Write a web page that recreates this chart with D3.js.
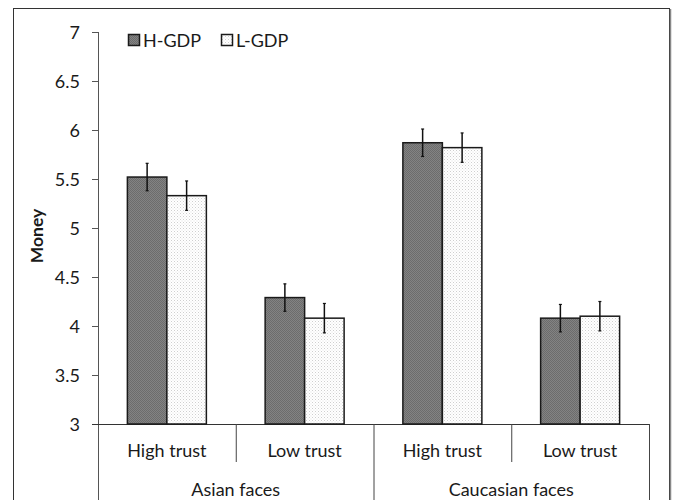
<!DOCTYPE html>
<html><head><meta charset="utf-8">
<script src="https://cdn.jsdelivr.net/npm/d3@7/dist/d3.min.js"></script>
<style>body{margin:0;background:#fff}svg{display:block}text{font-family:Lato,"Open Sans",sans-serif;fill:#1a1a1a}</style>
</head><body><svg id="c" width="673" height="500"></svg>
<script>
const faces = ["Asian faces", "Caucasian faces"];
const trusts = ["High trust", "Low trust"];
const categories = ["Asian|High trust", "Asian|Low trust", "Caucasian|High trust", "Caucasian|Low trust"];
const seriesNames = ["H-GDP", "L-GDP"];
const hGDP = [5.52, 4.29, 5.87, 4.08];
const lGDP = [5.33, 4.08, 5.82, 4.10];
const hErr = [0.14, 0.14, 0.14, 0.14];
const lErr = [0.15, 0.15, 0.15, 0.15];
const yTicks = [3, 3.5, 4, 4.5, 5, 5.5, 6, 6.5, 7];

(function(){
const FS = "18px";
const svg = d3.select("#c");
const defs = svg.append("defs");
const pH = defs.append("pattern").attr("id","pH").attr("width",2).attr("height",2).attr("patternUnits","userSpaceOnUse");
pH.append("rect").attr("width",2).attr("height",2).attr("fill","#838383");
pH.append("rect").attr("width",1).attr("height",1).attr("fill","#6c6c6c");
pH.append("rect").attr("x",1).attr("y",1).attr("width",1).attr("height",1).attr("fill","#6c6c6c");
const pL = defs.append("pattern").attr("id","pL").attr("width",3).attr("height",3).attr("patternUnits","userSpaceOnUse");
pL.append("rect").attr("width",3).attr("height",3).attr("fill","#ffffff");
pL.append("rect").attr("width",1).attr("height",1).attr("fill","#cfcfcf");
pL.append("rect").attr("x",1.5).attr("y",1.5).attr("width",1).attr("height",1).attr("fill","#e2e2e2");

// outer frame
svg.append("rect").attr("x",13.5).attr("y",8.5).attr("width",656).attr("height",500).attr("fill","none").attr("stroke","#333").attr("stroke-width",1);
svg.append("line").attr("x1",670.5).attr("x2",670.5).attr("y1",9).attr("y2",500).attr("stroke","#888").attr("stroke-width",1.5);

const pLeft = 98, pRight = 649, pTop = 32, pBottom = 424;
const y = d3.scaleLinear().domain([3, 7]).range([pBottom, pTop]);
const x0 = d3.scaleBand().domain(categories).range([pLeft, pRight]).paddingInner(0).paddingOuter(0);
const x1 = d3.scaleBand().domain(seriesNames).range([0, x0.bandwidth()]).paddingInner(0).paddingOuter(0.744);

// y axis
const yAxis = d3.axisLeft(y).tickValues(yTicks).tickSize(6).tickFormat(d => d3.format("")(d));
const ga = svg.append("g").attr("transform",`translate(${pLeft},0)`).call(yAxis);
ga.select(".domain").remove();
ga.selectAll(".tick line").attr("stroke","#555").attr("stroke-width",1);
ga.selectAll(".tick text").attr("x",-18).attr("dy","0.35em").style("font-size",FS).style("font-family","Lato, sans-serif").attr("fill","#1a1a1a");
svg.append("line").attr("x1",pLeft+0.5).attr("x2",pLeft+0.5).attr("y1",pTop).attr("y2",500).attr("stroke","#555").attr("stroke-width",1);
svg.append("line").attr("x1",pLeft-6).attr("x2",pRight).attr("y1",pBottom+0.5).attr("y2",pBottom+0.5).attr("stroke","#333").attr("stroke-width",1);

svg.append("text").attr("transform",`translate(43,${(pTop+pBottom)/2+8}) rotate(-90)`).attr("text-anchor","middle")
  .style("font-size","17.5px").style("font-weight","bold").text("Money");

// category dividers
categories.forEach((c,i) => {
  if (i === 0) return;
  const xx = x0(c);
  svg.append("line").attr("x1",xx+0.5).attr("x2",xx+0.5).attr("y1",pBottom).attr("y2", i===2 ? 500 : 462).attr("stroke","#444").attr("stroke-width",1);
});
svg.append("line").attr("x1",pRight+0.5).attr("x2",pRight+0.5).attr("y1",pBottom).attr("y2",500).attr("stroke","#444").attr("stroke-width",1);

categories.forEach((c,i) => {
  svg.append("text").attr("x", x0(c)+x0.bandwidth()/2).attr("y",457).attr("text-anchor","middle").style("font-size",FS).text(trusts[i%2]);
});
faces.forEach((f,i) => {
  const a = x0(categories[i*2]), b = x0(categories[i*2+1]) + x0.bandwidth();
  svg.append("text").attr("x",(a+b)/2).attr("y",496).attr("text-anchor","middle").style("font-size",FS).text(f);
});

// bars
const series = [{name:"H-GDP", vals:hGDP, err:hErr, fill:"url(#pH)"},{name:"L-GDP", vals:lGDP, err:lErr, fill:"url(#pL)"}];
series.forEach(s => {
  const g = svg.append("g");
  categories.forEach((c,i) => {
    const bx = x0(c) + x1(s.name);
    const v = s.vals[i];
    g.append("rect").attr("x",bx).attr("y",y(v)).attr("width",x1.bandwidth()).attr("height",y(3)-y(v))
      .attr("fill",s.fill).attr("stroke","#1a1a1a").attr("stroke-width",1.5);
  });
});
series.forEach(s => {
  const g = svg.append("g");
  categories.forEach((c,i) => {
    const cx = x0(c) + x1(s.name) + x1.bandwidth()/2;
    const v = s.vals[i], e = s.err[i];
    g.append("line").attr("x1",cx).attr("x2",cx).attr("y1",y(v+e)).attr("y2",y(v-e)).attr("stroke","#111").attr("stroke-width",1.5);
    [v+e, v-e].forEach(t => g.append("line").attr("x1",cx-1.5).attr("x2",cx+1.5).attr("y1",y(t)).attr("y2",y(t)).attr("stroke","#111").attr("stroke-width",1.2));
  });
});

// legend
const leg = svg.append("g");
series.forEach((s,i) => {
  const lx = [128, 221][i];
  leg.append("rect").attr("x",lx+0.5).attr("y",34.5).attr("width",11).attr("height",11).attr("fill",s.fill).attr("stroke","#1a1a1a").attr("stroke-width",1.5);
  leg.append("text").attr("x",lx+15).attr("y",47).style("font-size",FS).text(s.name);
});
})();
</script></body></html>
